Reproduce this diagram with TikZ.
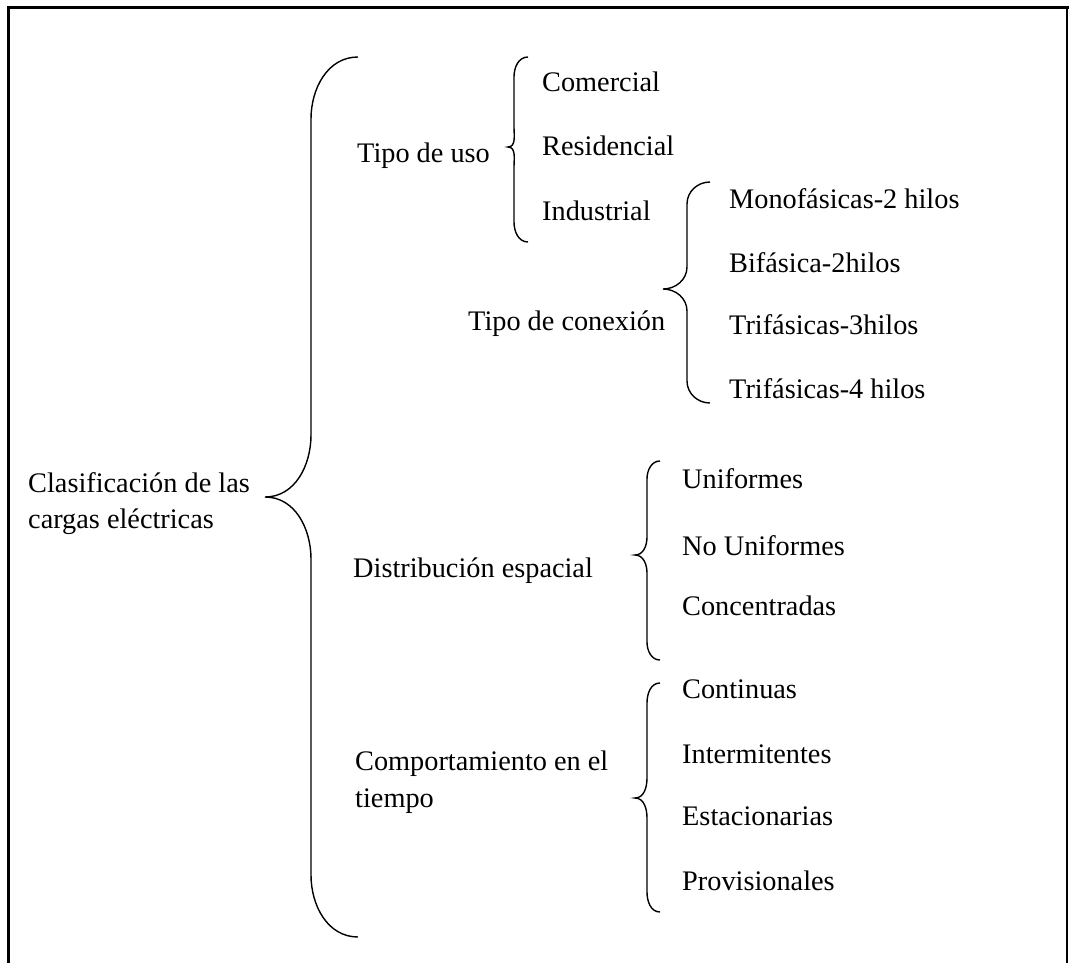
\documentclass[tikz,border=0pt]{standalone}
\usepackage{fontspec}
\setmainfont{Liberation Serif}
\newcommand\curlybr[7]{%
  \draw[bracestyle] (#1,#4) to[out=180,in=90] (#2,#4+#7) -- (#2,#5-#7)
    to[out=-90,in=0] (#3,#5) to[out=0,in=90] (#2,#5+#7) -- (#2,#6-#7)
    to[out=-90,in=180] (#1,#6);}
\tikzset{
  bracestyle/.style={line width=1.4pt, black},
  lbl/.style={anchor=base west, inner sep=0pt, font=\fontsize{28.3pt}{36pt}\selectfont},
  frame/.style={line width=3pt, black}
}
\begin{document}
\begin{tikzpicture}[x=1pt,y=-1pt]
\useasboundingbox (0,0) rectangle (1069,963);
% frame
\draw[frame] (8,963) -- (8,8) -- (1069,8);
\draw[line width=1.5pt] (1067,8) -- (1067,963);
% texts
\node[lbl] (root1) at (28,492) {Clasificación de las};
\node[lbl] (root2) at (28,528) {cargas eléctricas};
\node[lbl] (uso) at (357,163) {Tipo de uso};
\node[lbl] (com) at (542,92) {Comercial};
\node[lbl] (res) at (542,156) {Residencial};
\node[lbl] (ind) at (542,221) {Industrial};
\node[lbl] (con) at (468,330) {Tipo de conexión};
\node[lbl] (mono) at (729,208) {Monofásicas-2 hilos};
\node[lbl] (bi) at (729,272) {Bifásica-2hilos};
\node[lbl] (tri3) at (729,334) {Trifásicas-3hilos};
\node[lbl] (tri4) at (729,398) {Trifásicas-4 hilos};
\node[lbl] (dist) at (353,577) {Distribución espacial};
\node[lbl] (uni) at (682,488) {Uniformes};
\node[lbl] (nouni) at (682,555) {No Uniformes};
\node[lbl] (conc) at (682,615) {Concentradas};
\node[lbl] (comp1) at (355,770) {Comportamiento en el};
\node[lbl] (comp2) at (355,807) {tiempo};
\node[lbl] (cont) at (682,698) {Continuas};
\node[lbl] (inter) at (682,763) {Intermitentes};
\node[lbl] (est) at (682,825) {Estacionarias};
\node[lbl] (prov) at (682,890) {Provisionales};
% braces
\curlybr{358}{311}{265}{57}{497}{937}{62}
\curlybr{528}{514}{508}{57}{147}{242}{20}
\curlybr{710}{687}{663}{182}{289}{403}{22}
\curlybr{660}{647}{635}{461}{555}{660}{18}
\curlybr{660}{647}{635}{683}{798}{912}{20}
\end{tikzpicture}
\end{document}
